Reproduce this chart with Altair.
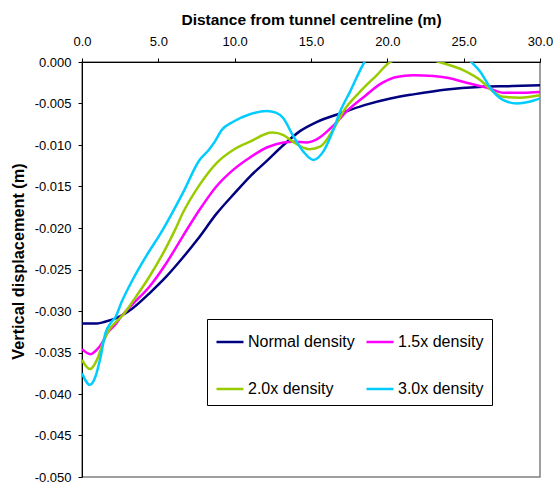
import altair as alt
import pandas as pd

series_names = ["Normal density", "1.5x density", "2.0x density", "3.0x density"]
series_colors = ["#000080", "#FF00FF", "#99CC00", "#00CCFF"]

normal_x = [0, 1, 1.5, 2.2, 3.3, 4.4, 5.5, 6.5, 7.6, 8.8, 10, 11, 12, 13.2, 14.3, 15.4,
            16.9, 18.5, 20.2, 21.7, 23.9, 26, 28.2, 30]
normal_y = [-0.0315, -0.0315, -0.0313, -0.0309, -0.0297, -0.0279, -0.0259, -0.0238,
            -0.0213, -0.0183, -0.0158, -0.0138, -0.0121, -0.0100, -0.0083, -0.0072,
            -0.0062, -0.0052, -0.0044, -0.0039, -0.0033, -0.0030, -0.0029, -0.0028]

d15_x = [0, 0.55, 1.0, 1.3, 1.65, 2.2, 2.6, 3.3, 4.4, 5.5, 6.6, 7.7, 8.8, 9.9, 11, 12.1,
         13.2, 13.8, 14.7, 15.4, 16.5, 17.3, 18.6, 19.5, 20.6, 21.7, 23.0, 23.9, 25.4,
         26.7, 27.6, 28.9, 30]
d15_y = [-0.0346, -0.0352, -0.0346, -0.0339, -0.0327, -0.0316, -0.0306, -0.0292, -0.0271,
         -0.0243, -0.0210, -0.0178, -0.0150, -0.0130, -0.0115, -0.0103, -0.0097, -0.0096,
         -0.0097, -0.0093, -0.0076, -0.0060, -0.0040, -0.0027, -0.0018, -0.0016, -0.0017,
         -0.0019, -0.0026, -0.0032, -0.0037, -0.0037, -0.0036]

d20_x = [0, 0.52, 1.0, 1.4, 1.8, 2.3, 2.8, 3.3, 4.4, 5.5, 6.1, 6.6, 7.7, 8.8, 9.9, 11,
         12.45, 13.2, 13.8, 14.9, 15.6, 16.5, 17.1, 18.2, 19.3, 20.2, 21.8, 23.4, 25.0,
         26.1, 26.7, 27.6, 28.7, 30]
d20_y = [-0.0359, -0.0370, -0.0358, -0.0337, -0.0322, -0.0312, -0.0302, -0.0289, -0.0259,
         -0.0224, -0.0202, -0.0182, -0.0148, -0.0122, -0.0106, -0.0096, -0.0085, -0.0088,
         -0.0096, -0.0105, -0.0102, -0.0080, -0.0060, -0.0036, -0.0016, 0.0, 0.0008, 0.0,
         -0.0010, -0.0022, -0.0032, -0.0042, -0.0043, -0.0040]

d30_x = [0, 0.52, 0.9, 1.2, 1.53, 1.9, 2.2, 2.6, 3.3, 4.4, 5.1, 6.6, 7.7, 8.3, 8.7, 9.15,
         9.9, 11, 12.1, 12.7, 13.2, 13.8, 14.5, 15.15, 15.8, 16.5, 16.9, 17.55, 18.5, 20,
         22, 24, 25.5, 26.1, 26.7, 27.6, 28.5, 29.3, 30]
d30_y = [-0.0375, -0.0389, -0.0378, -0.0357, -0.0327, -0.0314, -0.0307, -0.0289, -0.0263,
         -0.0228, -0.0208, -0.0158, -0.0118, -0.0106, -0.0096, -0.0082, -0.0072, -0.0063,
         -0.0059, -0.0061, -0.0068, -0.0088, -0.0108, -0.0118, -0.0108, -0.0080, -0.0060,
         -0.0036, 0.0, 0.003, 0.004, 0.0025, 0.0, -0.0012, -0.0030, -0.0046, -0.0050,
         -0.0048, -0.0044]

x_ticks = [0, 5, 10, 15, 20, 25, 30]
y_ticks = [-0.050, -0.045, -0.040, -0.035, -0.030, -0.025, -0.020, -0.015, -0.010,
           -0.005, 0.000]

frames = []
for name, xs, ys in zip(series_names, [normal_x, d15_x, d20_x, d30_x],
                        [normal_y, d15_y, d20_y, d30_y]):
    frames.append(pd.DataFrame({"x": xs, "y": ys, "series": name, "order": range(len(xs))}))
df = pd.concat(frames, ignore_index=True)

FONT = "Liberation Sans"

legend_label_expr = ("(datum.label == '1.5x density' || datum.label == '3.0x density') ? "
                     "datum.label + '\u2007\u2007' : datum.label")

chart = alt.Chart(df).mark_line(clip=True, strokeWidth=2.5, interpolate="monotone").encode(
    x=alt.X("x:Q", scale=alt.Scale(domain=[0, 30], nice=False),
            axis=alt.Axis(orient="top", values=x_ticks, format=".1f",
                          title="Distance from tunnel centreline (m)", grid=False,
                          domainColor="black", tickColor="black", tickSize=4,
                          labelFontSize=13, labelPadding=10, labelColor="black",
                          labelFlush=False, labelOverlap=False,
                          titleFontSize=15.5, titleFontWeight="bold", titleColor="black",
                          titlePadding=8, labelFont=FONT, titleFont=FONT)),
    y=alt.Y("y:Q", scale=alt.Scale(domain=[-0.05, 0], nice=False),
            axis=alt.Axis(values=y_ticks,
                          labelExpr="datum.value < 0 ? '-' + format(-datum.value, '.3f') : format(datum.value, '.3f')",
                          title="Vertical displacement (m)", grid=False,
                          domainColor="black", tickColor="black", tickSize=4,
                          labelFontSize=13, labelPadding=7, labelColor="black",
                          labelFlush=False, labelOverlap=False,
                          titleFontSize=16.3, titleFontWeight="bold", titleColor="black",
                          titlePadding=8, titleY=199, labelFont=FONT, titleFont=FONT)),
    color=alt.Color("series:N", sort=series_names,
                    scale=alt.Scale(domain=series_names, range=series_colors),
                    legend=alt.Legend(title=None, orient="none", legendX=125, legendY=257,
                                      direction="horizontal", columns=2,
                                      fillColor="white", strokeColor="black",
                                      padding=8, symbolType="stroke", symbolSize=729,
                                      symbolStrokeWidth=2.5, labelFontSize=16,
                                      labelFont=FONT, labelColor="black",
                                      labelExpr=legend_label_expr,
                                      rowPadding=24, columnPadding=6, labelOffset=3)),
    order="order:Q",
    detail="series:N",
).properties(
    width=458, height=415,
    autosize=alt.AutoSizeParams(type="none"),
    padding={"left": 82, "top": 62, "right": 13, "bottom": 12},
).configure_view(stroke="#808080", strokeWidth=1.5)

chart.save("out.html", embed_options={"renderer": "svg", "actions": False})
